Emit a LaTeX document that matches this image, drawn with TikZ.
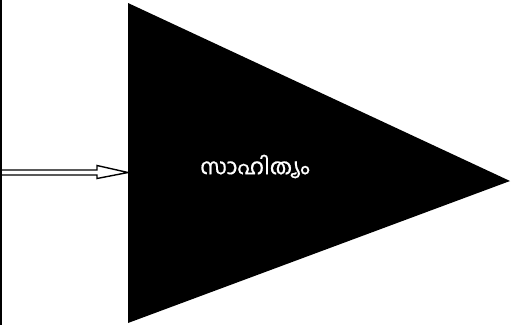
\documentclass[tikz,border=0pt]{standalone}
\usepackage{fontspec}
\newfontfamily\malfont[Script=Malayalam,FakeBold=0.6]{Hind Kochi}
\begin{document}
\begin{tikzpicture}[x=1pt,y=-1pt,
  wall/.style={line width=2pt},
  feed/.style={line width=1.4pt, line join=miter},
  label/.style={text=white, font=\malfont\fontsize{22}{26}\selectfont, inner sep=0pt}]
\useasboundingbox (0,0) rectangle (511,325);
\coordinate (wtop) at (1,0);
\coordinate (wbot) at (1,325);
\draw[wall] (wtop) -- (wbot);
\coordinate (ta) at (128,3);
\coordinate (tb) at (128,323);
\coordinate (tc) at (510,181);
\fill[black] (ta) -- (tc) -- (tb) -- cycle;
\coordinate (src) at (0,172.5);
\coordinate (dst) at (128,172.5);
\draw[feed] ([yshift=-2.5pt]src) -- ([xshift=-31pt,yshift=-2.5pt]dst)
  -- ([xshift=-31pt,yshift=-6pt]dst) -- (dst)
  -- ([xshift=-31pt,yshift=7pt]dst) -- ([xshift=-31pt,yshift=2.5pt]dst)
  -- ([yshift=2.5pt]src);
\node[label] (txt) at (255,166.5) {സാഹിത്യം};
\end{tikzpicture}
\end{document}
